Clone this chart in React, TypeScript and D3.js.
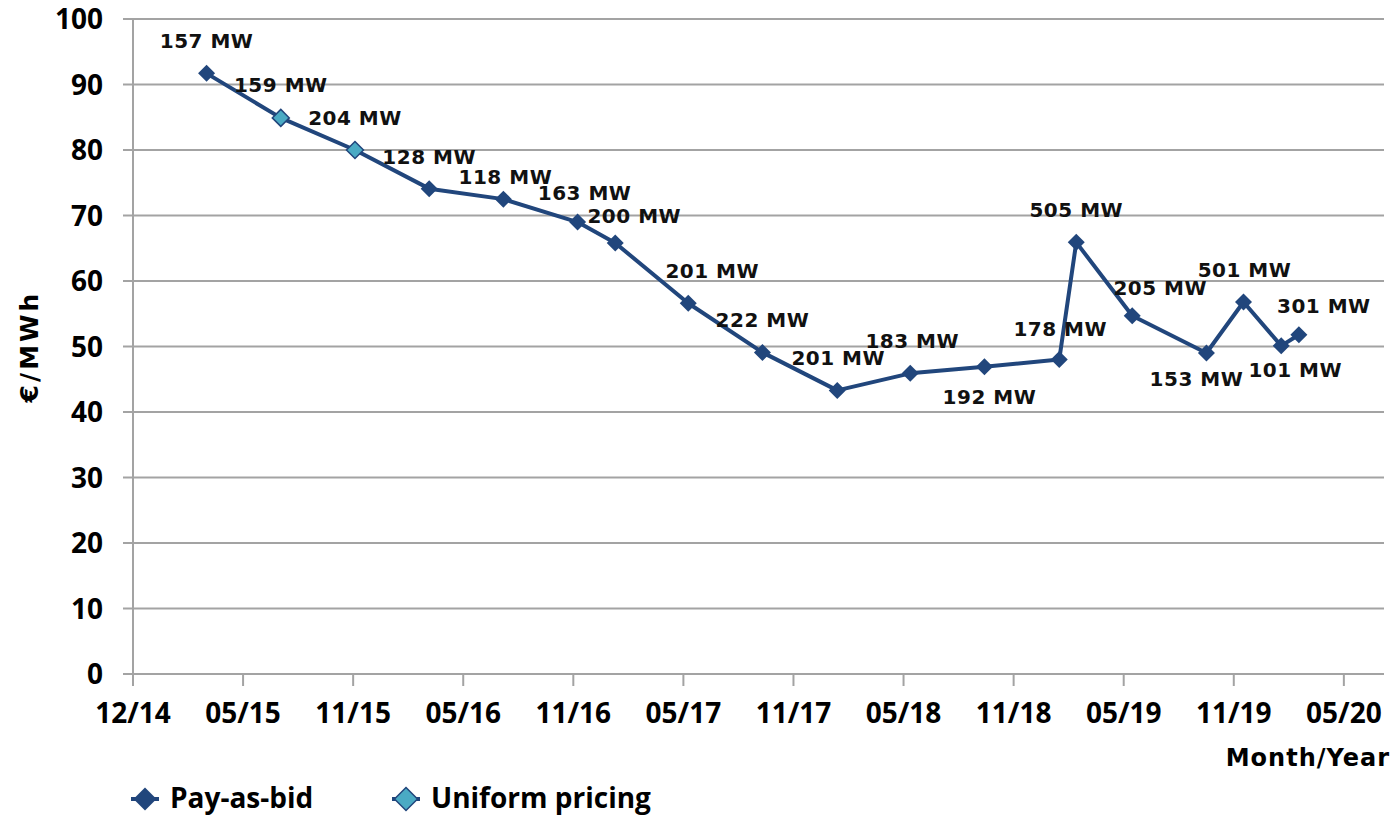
import * as d3 from 'd3'

// auction dates, awarded price (€/MWh), awarded volume, pricing rule
const AUCTION_DATES = [
  '2015-04-01', '2015-08-01', '2015-12-01', '2016-04-01', '2016-08-01', '2016-12-01',
  '2017-02-01', '2017-06-01', '2017-10-01', '2018-02-01', '2018-06-01', '2018-10-01',
  '2019-02-01', '2019-03-01', '2019-06-01', '2019-10-01', '2019-12-01', '2020-02-01', '2020-03-01',
]
const PRICES = [91.7, 84.9, 80.0, 74.1, 72.5, 69.0, 65.8, 56.6, 49.1, 43.3, 45.9, 46.9, 48.0, 65.9, 54.7, 49.0, 56.8, 50.1, 51.8]
const VOLUMES_MW = [157, 159, 204, 128, 118, 163, 200, 201, 222, 201, 183, 192, 178, 505, 205, 153, 501, 101, 301]
const PRICING = ['pab', 'uniform', 'uniform', 'pab', 'pab', 'pab', 'pab', 'pab', 'pab', 'pab', 'pab', 'pab', 'pab', 'pab', 'pab', 'pab', 'pab', 'pab', 'pab']

const Y_TICKS = [0, 10, 20, 30, 40, 50, 60, 70, 80, 90, 100]
const X_START = '2014-12-01'
const X_TICK_STEP_DAYS = 181
const X_TICK_COUNT = 12
const X_END_DAYS = 2057

const LEGEND = [
  { key: 'pab', label: 'Pay-as-bid' },
  { key: 'uniform', label: 'Uniform pricing' },
]

// label nudges [dx, dy-of-baseline] relative to each marker
const LABEL_NUDGE: [number, number][] = [
  [0, -25], [0, -26], [0, -25], [0, -25], [2, -15], [7, -22], [19, -20], [24, -25], [0, -25], [1, -25],
  [2, -25], [5, 37], [1, -24], [0, -25], [28, -21], [-10, 33], [1, -25], [14, 31], [25, -22],
]

const W = 1396
const H = 816
const LINE = '#21467c'
const UNIFORM_FILL = '#4aaac4'
const GRID = '#a3a3a3'
const TICK_FONT = '"Open Sans", "Noto Sans", sans-serif'
const LABEL_FONT = '"DejaVu Sans", Verdana, sans-serif'

const parse = d3.utcParse('%Y-%m-%d')
const diamond = (r: number) => `M0,${-r}L${r},0L0,${r}L${-r},0Z`

export default function App() {
  const start = parse(X_START) as Date
  const end = d3.utcDay.offset(start, X_END_DAYS)
  const x = d3.scaleUtc().domain([start, end]).range([133, 1384])
  const y = d3.scaleLinear().domain([0, 100]).range([674, 19])
  const xTicks = d3.range(X_TICK_COUNT).map((k) => d3.utcDay.offset(start, k * X_TICK_STEP_DAYS))
  const fmt = d3.utcFormat('%m/%y')

  const pts = AUCTION_DATES.map((d, i) => ({
    x: x(parse(d) as Date),
    y: y(PRICES[i]),
    mw: VOLUMES_MW[i],
    kind: PRICING[i],
  }))
  const line = d3.line<{ x: number; y: number }>().x((d) => d.x).y((d) => d.y)

  return (
    <svg width={W} height={H} style={{ position: 'absolute', left: 0, top: 0, background: '#fff' }}>
      {/* grid */}
      {Y_TICKS.map((t) => (
        <line key={'g' + t} x1={123} x2={1384} y1={y(t)} y2={y(t)} stroke={GRID} strokeWidth={2} />
      ))}
      <line x1={133} x2={133} y1={y(100)} y2={y(0)} stroke={GRID} strokeWidth={2} />
      {xTicks.map((t, i) => (
        <line key={'xt' + i} x1={x(t)} x2={x(t)} y1={y(0)} y2={y(0) + 12} stroke={GRID} strokeWidth={2} />
      ))}

      {/* y tick labels */}
      {Y_TICKS.map((t) => (
        <text key={'yl' + t} x={103} y={y(t)} dy="0.36em" textAnchor="end"
          fontFamily={TICK_FONT} fontWeight={700} fontSize={28} fill="#000">{t}</text>
      ))}
      {/* x tick labels */}
      {xTicks.map((t, i) => (
        <text key={'xl' + i} x={x(t)} y={723} textAnchor="middle"
          fontFamily={TICK_FONT} fontWeight={700} fontSize={28} fill="#000">{fmt(t)}</text>
      ))}

      {/* axis titles */}
      <text x={1390} y={766} textAnchor="end" fontFamily={LABEL_FONT} fontWeight={700} fontSize={24}
        letterSpacing={1} fill="#000">Month/Year</text>
      <text transform={`translate(38,${(y(0) + y(100)) / 2}) rotate(-90)`} textAnchor="middle"
        fontFamily={LABEL_FONT} fontWeight={700} fontSize={25} letterSpacing={3} fill="#000">€/MWh</text>

      {/* series */}
      <path d={line(pts) || ''} fill="none" stroke={LINE} strokeWidth={4} strokeLinejoin="round" />
      {pts.map((p, i) => (
        <path key={'m' + i} d={diamond(8.5)} transform={`translate(${p.x},${p.y})`}
          fill={p.kind === 'uniform' ? UNIFORM_FILL : LINE}
          stroke={LINE} strokeWidth={p.kind === 'uniform' ? 1.5 : 0} />
      ))}
      {pts.map((p, i) => (
        <text key={'l' + i} x={p.x + LABEL_NUDGE[i][0]} y={p.y + LABEL_NUDGE[i][1]} textAnchor="middle"
          fontFamily={LABEL_FONT} fontWeight={700} fontSize={20} letterSpacing={0.5} fill="#111">
          {`${p.mw} MW`}
        </text>
      ))}

      {/* legend */}
      {LEGEND.map((l, i) => {
        const cx = i === 0 ? 145 : 406
        return (
          <g key={'lg' + l.key}>
            <line x1={cx - 14} x2={cx + 14} y1={799} y2={799} stroke={LINE} strokeWidth={4} />
            <path d={diamond(11.5)} transform={`translate(${cx},799)`}
              fill={l.key === 'uniform' ? UNIFORM_FILL : LINE} stroke={LINE} strokeWidth={l.key === 'uniform' ? 1.5 : 0} />
            <text x={cx + 25} y={808} fontFamily={TICK_FONT} fontWeight={700} fontSize={28} fill="#000">{l.label}</text>
          </g>
        )
      })}
    </svg>
  )
}
